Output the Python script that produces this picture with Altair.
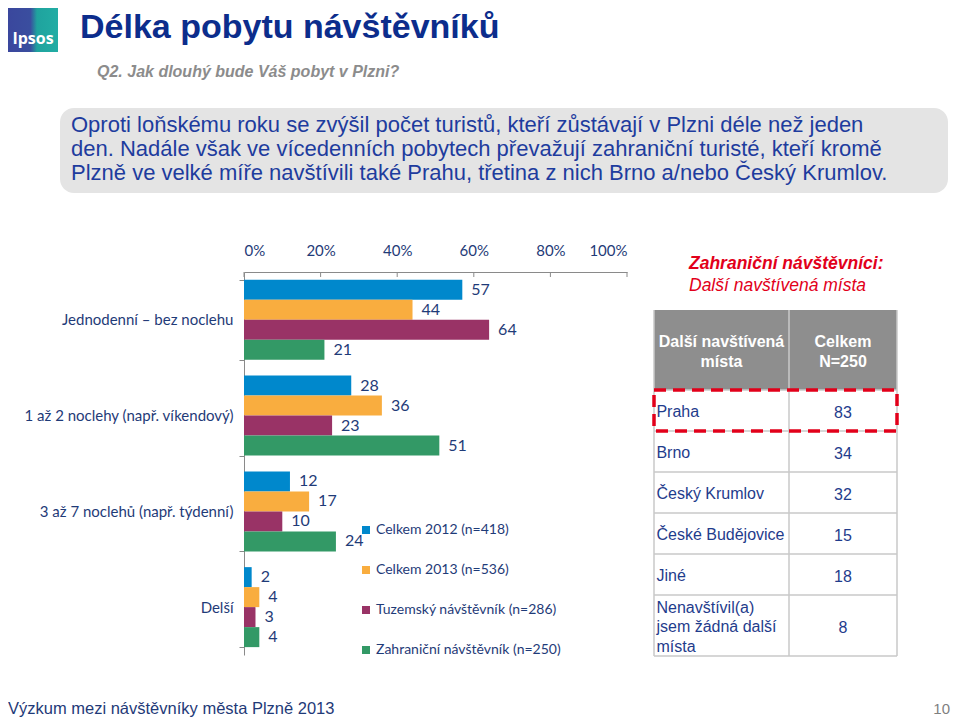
import altair as alt
import pandas as pd

# ---------------- data ----------------
categories = ["Jednodenní – bez noclehu", "1 až 2 noclehy (např. víkendový)",
              "3 až 7 noclehů (např. týdenní)", "Delší"]
series = ["Celkem 2012 (n=418)", "Celkem 2013 (n=536)",
          "Tuzemský návštěvník (n=286)", "Zahraniční návštěvník (n=250)"]
celkem_2012 = [57, 28, 12, 2]
celkem_2013 = [44, 36, 17, 4]
tuzemsky = [64, 23, 10, 3]
zahranicni = [21, 51, 24, 4]
series_colors = ["#0088CC", "#F9AD3F", "#993366", "#339966"]
x_ticks = [0, 20, 40, 60, 80, 100]

places = ["Praha", "Brno", "Český Krumlov", "České Budějovice", "Jiné",
          "Nenavštívil(a)\njsem žádná další\nmísta"]
place_values = [83, 34, 32, 15, 18, 8]
table_headers = ["Další navštívená\nmísta", "Celkem\nN=250"]

title_text = "Délka pobytu návštěvníků"
question_text = "Q2. Jak dlouhý bude Váš pobyt v Plzni?"
summary_lines = [
    "Oproti loňskému roku se zvýšil počet turistů, kteří zůstávají v Plzni déle než jeden",
    "den. Nadále však ve vícedenních pobytech převažují zahraniční turisté, kteří kromě",
    "Plzně ve velké míře navštívili také Prahu, třetina z nich Brno a/nebo Český Krumlov.",
]
table_title = "Zahraniční návštěvníci:"
table_subtitle = "Další navštívená místa"
footer_text = "Výzkum mezi návštěvníky města Plzně 2013"
page_number = "10"

# ---------------- styles ----------------
NAVY = "#1F3B78"
AX = "#8A8A8A"
TNAVY = "#1F3C8C"
RED = "#E2001A"
GRID = "#C8C8C8"
CAL = "Lato"
ARIAL = "Liberation Sans"
W, H = 383, 383
LH = 19.5

rows = []
for s, vals in zip(series, [celkem_2012, celkem_2013, tuzemsky, zahranicni]):
    for c, v in zip(categories, vals):
        rows.append({"category": c, "series": s, "value": v})
df = pd.DataFrame(rows)

xs = alt.Scale(domain=[0, 100], nice=False, zero=True)
ys = alt.Scale(paddingInner=0.1645, paddingOuter=0.0822)
yos = alt.Scale(paddingInner=0, paddingOuter=0)

bars = alt.Chart(df).mark_bar().encode(
    x=alt.X("value:Q", scale=xs,
            axis=alt.Axis(orient="top", values=x_ticks, labelExpr="datum.value + '%'",
                          ticks=False, grid=False, domainColor=AX, domainWidth=1,
                          labelFont=CAL, labelFontSize=15, labelColor=NAVY,
                          labelPadding=14, title=None)),
    y=alt.Y("category:N", sort=categories, scale=ys,
            axis=alt.Axis(title=None, tickBand="extent", tickSize=5, tickColor=AX,
                          domainColor=AX, labelFont=CAL, labelFontSize=15,
                          labelColor=NAVY, labelPadding=6, labelLimit=400)),
    yOffset=alt.YOffset("series:N", sort=series, scale=yos),
    color=alt.Color("series:N", sort=series,
                    scale=alt.Scale(domain=series, range=series_colors),
                    legend=alt.Legend(orient="none", legendX=115, legendY=251, title=None,
                                      symbolType="square", symbolSize=64,
                                      symbolStrokeWidth=0, labelFont=CAL,
                                      labelFontSize=14, labelColor=NAVY, labelLimit=400,
                                      rowPadding=26, labelOffset=3, padding=0)),
)

labels = alt.Chart(df).mark_text(align="left", baseline="middle", dx=9,
                                 font=CAL, fontSize=16, color=NAVY).encode(
    x=alt.X("value:Q", scale=xs),
    y=alt.Y("category:N", sort=categories, scale=ys),
    yOffset=alt.YOffset("series:N", sort=series, scale=yos),
    text="value:Q",
)

ticks = alt.Chart(pd.DataFrame({"value": x_ticks})).mark_rule(color=AX, strokeWidth=1).encode(
    x=alt.X("value:Q", scale=xs),
    y=alt.value(0),
    y2=alt.value(5),
)

main = alt.layer(bars, labels, ticks)

# ---------------- table ----------------
heights = [80] + [41 if "\n" not in p else 20 * (p.count("\n") + 1) + 1 for p in places]
tops = [sum(heights[:i]) for i in range(len(heights))]
total = sum(heights)
tbl = pd.DataFrame({
    "kind": ["header"] + ["row"] * len(places),
    "label": [""] + places,
    "value": [None] + place_values,
    "top": tops,
    "bottom": [t + h for t, h in zip(tops, heights)],
})
tbl["mid"] = (tbl["top"] + tbl["bottom"]) / 2
tbl["nlines"] = tbl["label"].str.count("\n") + 1
tbl["textY"] = tbl["mid"] - (tbl["nlines"] - 1) / 2 * LH

TX0, TX1 = 410, 653
COL = (789 - 654) / 243
tx = alt.Scale(domain=[0, 1], range=[TX0, TX1], nice=False, zero=False)
ty = alt.Scale(domain=[0, total], range=[38, 38 + total], nice=False, zero=False)

base_t = alt.Chart(tbl)
header_rect = base_t.transform_filter("datum.kind == 'header'").mark_rect(color="#8E8E8E").encode(
    x=alt.X(datum=0, type="quantitative", scale=tx, axis=None),
    x2=alt.X2(datum=1),
    y=alt.Y("top:Q", scale=ty, axis=None),
    y2="bottom:Q",
)
hlines = base_t.mark_rule(color=GRID, strokeWidth=1.5).encode(
    x=alt.X(datum=0, type="quantitative", scale=tx, axis=None),
    x2=alt.X2(datum=1),
    y=alt.Y("bottom:Q", scale=ty, axis=None),
)
vl = pd.DataFrame({"pos": [0, COL, 1]})
vlines = alt.Chart(vl).mark_rule(color=GRID, strokeWidth=1.5).encode(
    x=alt.X("pos:Q", scale=tx, axis=None),
    y=alt.Y(datum=0, type="quantitative", scale=ty, axis=None),
    y2=alt.Y2(datum=total),
)
hdr = pd.DataFrame({"text": table_headers, "xc": [COL / 2, (COL + 1) / 2]})
header_text = alt.Chart(hdr).mark_text(font=ARIAL, fontSize=16, fontWeight="bold",
                                       color="white", lineBreak="\n", lineHeight=20,
                                       baseline="middle", align="center").encode(
    x=alt.X("xc:Q", scale=tx, axis=None),
    y=alt.Y(datum=32, type="quantitative", scale=ty, axis=None),
    text="text:N",
)
rows_only = base_t.transform_filter("datum.kind == 'row'")
place_text = rows_only.mark_text(font=ARIAL, fontSize=16, color=TNAVY, lineBreak="\n",
                                 lineHeight=LH, align="left", baseline="middle",
                                 dy=1.5).encode(
    x=alt.X(datum=0.01, type="quantitative", scale=tx, axis=None),
    y=alt.Y("textY:Q", scale=ty, axis=None),
    text="label:N",
)
value_text = rows_only.mark_text(font=ARIAL, fontSize=16, color=TNAVY, align="center",
                                 baseline="middle", dy=2).encode(
    x=alt.X(datum=(COL + 1) / 2, type="quantitative", scale=tx, axis=None),
    y=alt.Y("mid:Q", scale=ty, axis=None),
    text="value:Q",
)
dashed = base_t.transform_filter("datum.label == 'Praha'").mark_rect(
    filled=False, stroke=RED, strokeWidth=3.5, strokeDash=[12, 7]).encode(
    x=alt.X(datum=0, type="quantitative", scale=tx, axis=None),
    x2=alt.X2(datum=1),
    y=alt.Y("top:Q", scale=ty, axis=None),
    y2="bottom:Q",
)
table = alt.layer(header_rect, hlines, vlines, header_text, place_text, value_text, dashed)

# ---------------- decorations ----------------
one = pd.DataFrame({"k": [0]})


def txt(text, x, y, size, color, weight="normal", style="normal", align="left", font=ARIAL):
    return alt.Chart(one).mark_text(font=font, fontSize=size, fontWeight=weight,
                                    fontStyle=style, align=align, baseline="middle",
                                    color=color).encode(
        x=alt.value(x), y=alt.value(y), text=alt.value(text))


logo_grad = alt.Gradient(gradient="linear", x1=0, x2=1, y1=0, y2=0, stops=[
    alt.GradientStop(color="#3A479D", offset=0),
    alt.GradientStop(color="#3A4E9F", offset=0.45),
    alt.GradientStop(color="#1FA39E", offset=0.58),
    alt.GradientStop(color="#22ADA4", offset=1),
])
logo = alt.Chart(one).mark_rect(color=logo_grad).encode(
    x=alt.value(-236), x2=alt.value(-186), y=alt.value(-264), y2=alt.value(-220))
logo_txt = txt("Ipsos", -211, -233, 16, "white", weight="bold", align="center", font="Open Sans")

box = alt.Chart(one).mark_rect(color="#E4E4E4", cornerRadius=14).encode(
    x=alt.value(-184), x2=alt.value(704), y=alt.value(-164), y2=alt.value(-79))

decor = [logo, logo_txt,
         txt(title_text, -164, -244, 34, "#0C2D8C", weight="bold"),
         txt(question_text, -147, -200, 16, "#8C8C8C", weight="bold", style="italic"),
         box]
for i, line in enumerate(summary_lines):
    decor.append(txt(line, -173, -147 + 24 * i, 22, "#1E3C9E"))
decor += [
    txt(table_title, 445, -8, 17.5, RED, weight="bold", style="italic"),
    txt(table_subtitle, 445, 14, 17.5, RED, style="italic"),
    txt(footer_text, -236, 437, 16.5, "#1F3A78"),
    txt(page_number, 706, 437, 15, "#7F7F7F", align="right"),
]

chart = alt.layer(main, table, *decor).resolve_scale(
    x="independent", y="independent"
).properties(
    width=W, height=H,
    autosize=alt.AutoSizeParams(type="none"),
    padding={"left": 236, "top": 264, "right": 325, "bottom": 63},
).configure_view(stroke=None)

chart.save("out.html", embed_options={"renderer": "svg", "actions": False})
